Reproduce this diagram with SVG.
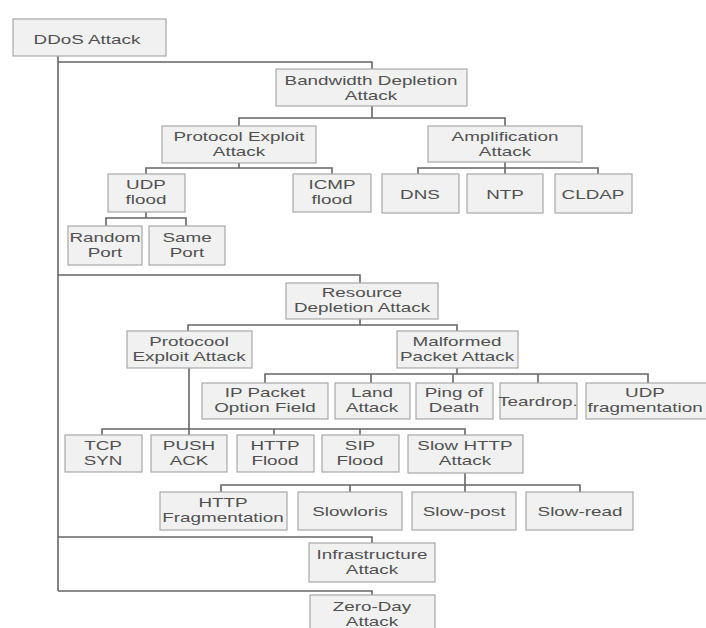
<svg xmlns="http://www.w3.org/2000/svg" width="706" height="628" viewBox="0 0 706 628">
<style>
.bg{fill:#ffffff}
.box{fill:#f1f1f1;stroke:#a9a9a9;stroke-width:1.2}
.lbl{font-family:"Liberation Sans",Arial,sans-serif;font-size:13px;fill:#505050;text-anchor:middle}
.con{fill:none;stroke:#666666;stroke-width:1.6}
</style>
<rect class="bg" x="0" y="0" width="706" height="628"/>
<g id="connectors">
<path class="con" d="M58,56 V591"/>
<path class="con" d="M58,62 H372 V69"/>
<path class="con" d="M58,275 H360 V283"/>
<path class="con" d="M58,537 H372 V543"/>
<path class="con" d="M58,591 H372 V595"/>
<path class="con" d="M372,106 V118"/>
<path class="con" d="M239,126 V118 H505 V126"/>
<path class="con" d="M239,163 V168"/>
<path class="con" d="M146,174 V168 H332 V174"/>
<path class="con" d="M505,162 V174"/>
<path class="con" d="M418,174 V168 H598 V174"/>
<path class="con" d="M146,212 V218"/>
<path class="con" d="M106,226 V218 H186 V226"/>
<path class="con" d="M360,319 V325"/>
<path class="con" d="M188,331 V325 H457 V331"/>
<path class="con" d="M189,368 V435"/>
<path class="con" d="M102,435 V429 H465 V435"/>
<path class="con" d="M274,429 V435 M360,429 V435"/>
<path class="con" d="M457,368 V374"/>
<path class="con" d="M265,383 V374 H648 V383"/>
<path class="con" d="M371,374 V383 M453,374 V383 M538,374 V383"/>
<path class="con" d="M465,473 V485"/>
<path class="con" d="M221,492 V485 H580 V492"/>
<path class="con" d="M350,485 V492 M465,485 V492"/>
</g>
<g id="ddos"><rect class="box" x="13" y="19" width="153" height="37"/><text class="lbl" transform="matrix(1.45 0 0 1 87 44)">DDoS Attack</text></g>
<g id="bandwidth"><rect class="box" x="276" y="69" width="191" height="37"/><text class="lbl" transform="matrix(1.45 0 0 1 371 85)"><tspan x="0" y="0">Bandwidth Depletion</tspan><tspan x="0" y="15">Attack</tspan></text></g>
<g id="protocol1"><rect class="box" x="162" y="126" width="154" height="37"/><text class="lbl" transform="matrix(1.45 0 0 1 239 141)"><tspan x="0" y="0">Protocol Exploit</tspan><tspan x="0" y="15">Attack</tspan></text></g>
<g id="amplification"><rect class="box" x="428" y="126" width="154" height="36"/><text class="lbl" transform="matrix(1.45 0 0 1 505 141)"><tspan x="0" y="0">Amplification</tspan><tspan x="0" y="15">Attack</tspan></text></g>
<g id="udpflood"><rect class="box" x="108" y="174" width="77" height="38"/><text class="lbl" transform="matrix(1.45 0 0 1 146 189)"><tspan x="0" y="0">UDP</tspan><tspan x="0" y="15">flood</tspan></text></g>
<g id="icmp"><rect class="box" x="293" y="174" width="78" height="38"/><text class="lbl" transform="matrix(1.45 0 0 1 332 189)"><tspan x="0" y="0">ICMP</tspan><tspan x="0" y="15">flood</tspan></text></g>
<g id="dns"><rect class="box" x="382" y="174" width="77" height="39"/><text class="lbl" transform="matrix(1.45 0 0 1 420 199)">DNS</text></g>
<g id="ntp"><rect class="box" x="467" y="174" width="76" height="39"/><text class="lbl" transform="matrix(1.45 0 0 1 505 199)">NTP</text></g>
<g id="cldap"><rect class="box" x="555" y="174" width="77" height="39"/><text class="lbl" transform="matrix(1.45 0 0 1 593 199)">CLDAP</text></g>
<g id="random"><rect class="box" x="68" y="226" width="74" height="39"/><text class="lbl" transform="matrix(1.45 0 0 1 105 242)"><tspan x="0" y="0">Random</tspan><tspan x="0" y="15">Port</tspan></text></g>
<g id="same"><rect class="box" x="149" y="226" width="76" height="39"/><text class="lbl" transform="matrix(1.45 0 0 1 187 242)"><tspan x="0" y="0">Same</tspan><tspan x="0" y="15">Port</tspan></text></g>
<g id="resource"><rect class="box" x="286" y="283" width="152" height="36"/><text class="lbl" transform="matrix(1.45 0 0 1 362 297)"><tspan x="0" y="0">Resource</tspan><tspan x="0" y="15">Depletion Attack</tspan></text></g>
<g id="protocol2"><rect class="box" x="127" y="331" width="125" height="37"/><text class="lbl" transform="matrix(1.45 0 0 1 189 346)"><tspan x="0" y="0">Protocool</tspan><tspan x="0" y="15">Exploit Attack</tspan></text></g>
<g id="malformed"><rect class="box" x="397" y="331" width="121" height="37"/><text class="lbl" transform="matrix(1.45 0 0 1 457 346)"><tspan x="0" y="0">Malformed</tspan><tspan x="0" y="15">Packet Attack</tspan></text></g>
<g id="ippacket"><rect class="box" x="202" y="383" width="126" height="36"/><text class="lbl" transform="matrix(1.45 0 0 1 265 397)"><tspan x="0" y="0">IP Packet</tspan><tspan x="0" y="15">Option Field</tspan></text></g>
<g id="land"><rect class="box" x="335" y="383" width="75" height="36"/><text class="lbl" transform="matrix(1.45 0 0 1 372 397)"><tspan x="0" y="0">Land</tspan><tspan x="0" y="15">Attack</tspan></text></g>
<g id="ping"><rect class="box" x="416" y="383" width="77" height="36"/><text class="lbl" transform="matrix(1.45 0 0 1 454 397)"><tspan x="0" y="0">Ping of</tspan><tspan x="0" y="15">Death</tspan></text></g>
<g id="teardrop"><rect class="box" x="500" y="383" width="77" height="36"/><text class="lbl" transform="matrix(1.45 0 0 1 538 406)">Teardrop.</text></g>
<g id="udpfrag"><rect class="box" x="586" y="383" width="126" height="36"/><text class="lbl" transform="matrix(1.45 0 0 1 645 397)"><tspan x="0" y="0">UDP</tspan><tspan x="0" y="15">fragmentation</tspan></text></g>
<g id="tcpsyn"><rect class="box" x="65" y="435" width="77" height="37"/><text class="lbl" transform="matrix(1.45 0 0 1 103 450)"><tspan x="0" y="0">TCP</tspan><tspan x="0" y="15">SYN</tspan></text></g>
<g id="pushack"><rect class="box" x="151" y="435" width="76" height="37"/><text class="lbl" transform="matrix(1.45 0 0 1 189 450)"><tspan x="0" y="0">PUSH</tspan><tspan x="0" y="15">ACK</tspan></text></g>
<g id="httpflood"><rect class="box" x="237" y="435" width="77" height="37"/><text class="lbl" transform="matrix(1.45 0 0 1 275 450)"><tspan x="0" y="0">HTTP</tspan><tspan x="0" y="15">Flood</tspan></text></g>
<g id="sipflood"><rect class="box" x="322" y="435" width="77" height="37"/><text class="lbl" transform="matrix(1.45 0 0 1 360 450)"><tspan x="0" y="0">SIP</tspan><tspan x="0" y="15">Flood</tspan></text></g>
<g id="slowhttp"><rect class="box" x="408" y="435" width="115" height="38"/><text class="lbl" transform="matrix(1.45 0 0 1 465 450)"><tspan x="0" y="0">Slow HTTP</tspan><tspan x="0" y="15">Attack</tspan></text></g>
<g id="httpfrag"><rect class="box" x="160" y="492" width="127" height="38"/><text class="lbl" transform="matrix(1.45 0 0 1 223 507)"><tspan x="0" y="0">HTTP</tspan><tspan x="0" y="15">Fragmentation</tspan></text></g>
<g id="slowloris"><rect class="box" x="298" y="492" width="104" height="38"/><text class="lbl" transform="matrix(1.45 0 0 1 350 516)">Slowloris</text></g>
<g id="slowpost"><rect class="box" x="412" y="492" width="104" height="38"/><text class="lbl" transform="matrix(1.45 0 0 1 464 516)">Slow-post</text></g>
<g id="slowread"><rect class="box" x="526" y="492" width="107" height="38"/><text class="lbl" transform="matrix(1.45 0 0 1 580 516)">Slow-read</text></g>
<g id="infrastructure"><rect class="box" x="309" y="543" width="126" height="39"/><text class="lbl" transform="matrix(1.45 0 0 1 372 559)"><tspan x="0" y="0">Infrastructure</tspan><tspan x="0" y="15">Attack</tspan></text></g>
<g id="zeroday"><rect class="box" x="310" y="595" width="125" height="45"/><text class="lbl" transform="matrix(1.45 0 0 1 372 611)"><tspan x="0" y="0">Zero-Day</tspan><tspan x="0" y="15">Attack</tspan></text></g>
</svg>
